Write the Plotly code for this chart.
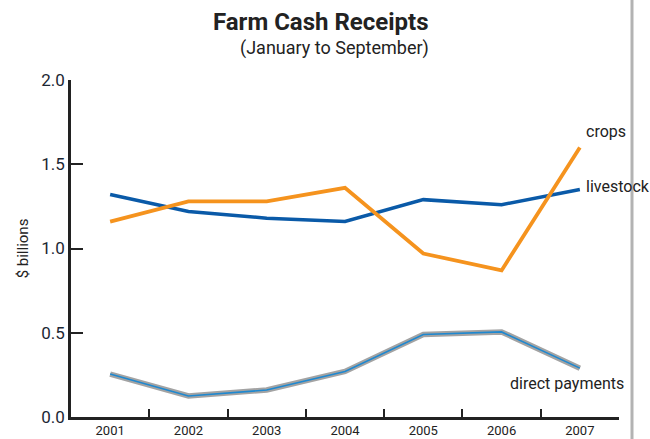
import plotly.graph_objects as go

years = ["2001", "2002", "2003", "2004", "2005", "2006", "2007"]
livestock = [1.32, 1.22, 1.18, 1.16, 1.29, 1.26, 1.35]
crops = [1.16, 1.28, 1.28, 1.36, 0.97, 0.87, 1.60]
direct_payments = [0.255, 0.125, 0.16, 0.27, 0.49, 0.505, 0.29]

face = "Roboto, Liberation Sans, sans-serif"
ink = "#222222"

# plot area in page pixels
L, R, T, B = 71, 31, 80, 22
W, H = 650, 439
plot_w, plot_h = W - L - R, H - T - B


def px(x):
    return (x - L) / plot_w


def py(y):
    return (H - B - y) / plot_h


fig = go.Figure()
# direct payments: grey casing with a thin blue core
fig.add_trace(go.Scatter(x=years, y=direct_payments, mode="lines",
                         line=dict(color="#a3a3a3", width=5.5), hoverinfo="skip"))
fig.add_trace(go.Scatter(x=years, y=direct_payments, mode="lines",
                         line=dict(color="#1e88d0", width=1.6), name="direct payments"))
fig.add_trace(go.Scatter(x=years, y=livestock, mode="lines",
                         line=dict(color="#0a5aa8", width=3.5), name="livestock"))
fig.add_trace(go.Scatter(x=years, y=crops, mode="lines",
                         line=dict(color="#f5931e", width=3.8), name="crops"))

fig.update_layout(
    width=W, height=H,
    margin=dict(l=L, r=R, t=T, b=B),
    paper_bgcolor="white", plot_bgcolor="white",
    showlegend=False,
    font=dict(family=face, color=ink),
    xaxis=dict(
        type="category", range=[-0.5, 6.5], automargin=False,
        showline=True, linecolor=ink, linewidth=2.5,
        ticks="inside", tickson="boundaries", ticklen=8, tickwidth=2, tickcolor=ink,
        showgrid=False, zeroline=False,
        tickfont=dict(size=13, color=ink, family=face),
        ticklabelstandoff=0,
    ),
    yaxis=dict(
        range=[0, 2.0], automargin=False,
        tickvals=[0, 0.5, 1.0, 1.5, 2.0],
        ticktext=["0.0", "0.5", "1.0", "1.5", "2.0"],
        showline=True, linecolor=ink, linewidth=2.5,
        ticks="inside", ticklen=12, tickwidth=2, tickcolor=ink,
        showgrid=False, zeroline=False,
        tickfont=dict(size=17, color="#1c2733", family=face),
        title=dict(text="$ billions", font=dict(size=15, color=ink, family=face), standoff=10),
    ),
    annotations=[
        dict(text="<b>Farm Cash Receipts</b>", x=px(321), y=py(22), xref="paper", yref="paper",
             yanchor="middle", showarrow=False, font=dict(size=24, color=ink, family=face)),
        dict(text="(January to September)", x=px(334), y=py(48), xref="paper", yref="paper",
             yanchor="middle", showarrow=False, font=dict(size=18, color=ink, family=face)),
        dict(text="crops", x=px(584), y=py(131), xref="paper", yref="paper",
             xanchor="left", yanchor="middle",
             showarrow=False, font=dict(size=16, color=ink, family=face)),
        dict(text="livestock", x=px(584), y=py(186), xref="paper", yref="paper",
             xanchor="left", yanchor="middle",
             showarrow=False, font=dict(size=16, color=ink, family=face)),
        dict(text="direct payments", x=px(626), y=py(383), xref="paper", yref="paper",
             xanchor="right", yanchor="middle",
             showarrow=False, font=dict(size=16, color=ink, family=face)),
    ],
)

# vertical page rule on the right
fig.add_shape(type="line", xref="paper", yref="paper",
              x0=px(632), x1=px(632), y0=py(439), y1=py(0),
              line=dict(color="#b3b3b3", width=3))

fig.write_html("out.html")
